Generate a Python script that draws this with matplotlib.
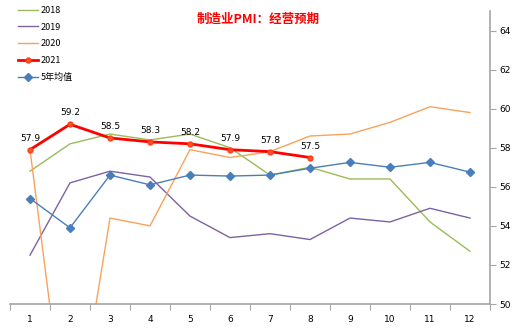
import matplotlib
matplotlib.use("Agg")
import matplotlib.pyplot as plt

plt.rcParams['font.family'] = ['Noto Sans CJK SC', 'DejaVu Sans']

months = ["1", "2", "3", "4", "5", "6", "7", "8", "9", "10", "11", "12"]
y2018 = [56.8, 58.2, 58.7, 58.4, 58.7, 58.0, 56.6, 57.0, 56.4, 56.4, 54.2, 52.7]
y2019 = [52.5, 56.2, 56.8, 56.5, 54.5, 53.4, 53.6, 53.3, 54.4, 54.2, 54.9, 54.4]
y2020 = [57.9, 41.8, 54.4, 54.0, 57.9, 57.5, 57.8, 58.6, 58.7, 59.3, 60.1, 59.8]
y2021 = [57.9, 59.2, 58.5, 58.3, 58.2, 57.9, 57.8, 57.5]
avg5 = [55.4, 53.9, 56.6, 56.1, 56.6, 56.55, 56.6, 56.95, 57.25, 57.0, 57.25, 56.75]
yticks = [50, 52, 54, 56, 58, 60, 62, 64]

fig = plt.figure(figsize=(5.15, 3.29), dpi=100)
ax = fig.add_axes([10 / 515, 25 / 329, 480 / 515, 293 / 329])

x = list(range(len(months)))
ax.plot(x, y2018, color="#9BBB59", lw=1.0, label="2018", zorder=2)
ax.plot(x, y2019, color="#7F62A1", lw=1.0, label="2019", zorder=2)
ax.plot(x, y2020, color="#F9A25A", lw=1.0, label="2020", zorder=2)
ax.plot(range(len(y2021)), y2021, color="#FF0000", lw=2.0, marker="o",
        ms=3.5, mfc="#F25A1E", mec="#FF3B1B", label="2021", zorder=4)
ax.plot(x, avg5, color="#4A7EBB", lw=1.0, marker="D", ms=3.6,
        mfc="#4A7EBB", mec="#4A7EBB", label="5年均值", zorder=3)

for i, v in enumerate(y2021):
    ax.annotate(f"{v:.1f}", (i, v), xytext=(0, 5), textcoords="offset points",
                ha="center", va="bottom", fontsize=6.5, color="black",
                family=["DejaVu Sans"])

ax.set_xlim(-0.5, 11.5)
ax.set_ylim(50, 65)

ax.yaxis.tick_right()
ax.set_yticks(yticks)
ax.set_yticklabels([str(t) for t in yticks], fontsize=6.5, family=["DejaVu Sans"])
ax.set_xticks([i - 0.5 for i in range(13)])
ax.set_xticklabels([])
ax.set_xticks(x, minor=True)
ax.set_xticklabels(months, minor=True, fontsize=6.5, family=["DejaVu Sans"])
ax.tick_params(axis="x", which="minor", length=0, pad=8)
ax.tick_params(axis="x", which="major", length=4, color="#A6A6A6", direction="out")
ax.tick_params(axis="y", length=4, color="#A6A6A6", direction="out", pad=3)

for side in ("left", "top"):
    ax.spines[side].set_visible(False)
for side in ("right", "bottom"):
    ax.spines[side].set_color("#A6A6A6")
    ax.spines[side].set_linewidth(1.2)

fig.text(258 / 515, 1 - 19 / 329, "制造业PMI：经营预期", color="#FF0000",
         fontsize=9, fontweight="bold", ha="center", va="center")

leg = ax.legend(loc="upper left", bbox_to_anchor=(0.0, 1.045), frameon=False,
                fontsize=6.5, handlelength=2.2, labelspacing=0.85,
                handletextpad=0.3)

fig.savefig("out.png", dpi=100)
